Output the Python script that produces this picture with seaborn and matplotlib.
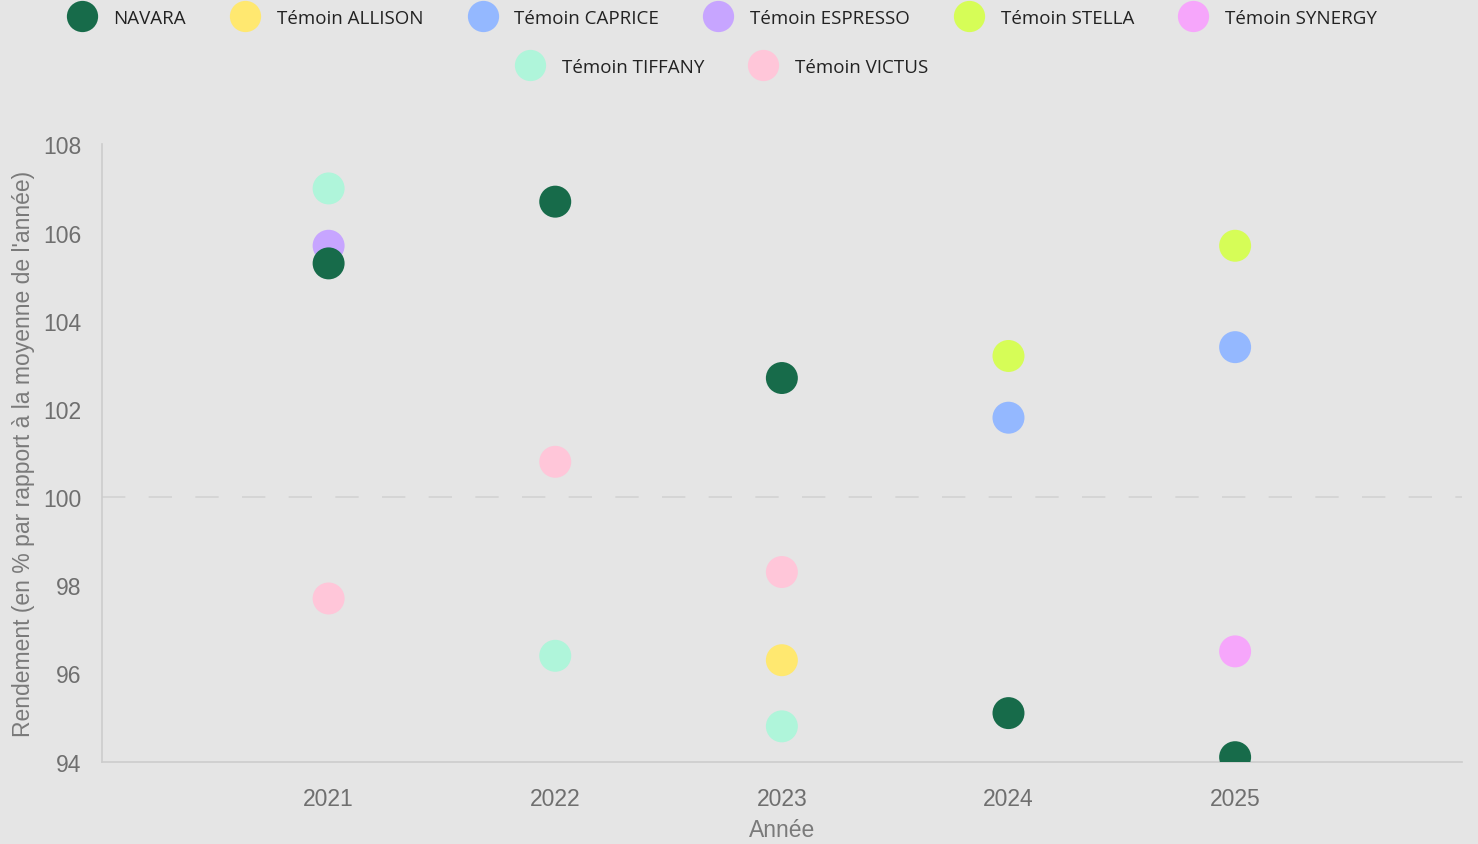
import numpy as np
import pandas as pd
import matplotlib.pyplot as plt
from matplotlib.lines import Line2D
import seaborn as sns

# yield in % of the yearly mean, one list per variety (nan = not tested that year)
years = [2021, 2022, 2023, 2024, 2025]
navara = [105.3, 106.7, 102.7, 95.1, 94.1]
allison = [np.nan, np.nan, 96.3, np.nan, np.nan]
caprice = [np.nan, np.nan, np.nan, 101.8, 103.4]
espresso = [105.7, np.nan, np.nan, np.nan, np.nan]
stella = [np.nan, np.nan, np.nan, 103.2, 105.7]
synergy = [np.nan, np.nan, np.nan, np.nan, 96.5]
tiffany = [107.0, 96.4, 94.8, np.nan, np.nan]
victus = [97.7, 100.8, 98.3, np.nan, np.nan]

names = ['NAVARA', 'Témoin ALLISON', 'Témoin CAPRICE', 'Témoin ESPRESSO',
         'Témoin STELLA', 'Témoin SYNERGY', 'Témoin TIFFANY', 'Témoin VICTUS']
series = [navara, allison, caprice, espresso, stella, synergy, tiffany, victus]
colors = ['#176b4a', '#ffe870', '#94b8ff', '#c7a5ff',
          '#d6fd57', '#f6a6fb', '#aff5da', '#ffc6d9']
palette = dict(zip(names, colors))

rows = []
for name, vals in zip(names, series):
    for yr, v in zip(years, vals):
        if not np.isnan(v):
            rows.append({'Année': yr, 'Rendement': v, 'Variété': name})
df = pd.DataFrame(rows)
# NAVARA drawn last so it sits on top
df['ordre'] = (df['Variété'] == 'NAVARA').astype(int)
df = df.sort_values('ordre', kind='stable')

bg = '#e5e5e5'
sns.set_style('white')
plt.rcParams['font.family'] = ['Liberation Sans', 'DejaVu Sans']

fig = plt.figure(figsize=(14.78, 8.45), dpi=100, facecolor=bg)
ax = fig.add_axes([0.069, 0.0975, 0.92, 0.7305])
ax.set_facecolor(bg)

ax.axhline(100, color='#d2d2d2', lw=1.2, ls=(0, (14, 14)), zorder=1)
sns.scatterplot(data=df, x='Année', y='Rendement', hue='Variété', palette=palette,
                s=530, linewidth=0, legend=False, ax=ax, zorder=3)

ax.set_xlim(2020, 2026)
ax.set_ylim(94, 108)
ax.set_xticks(years)
ax.set_yticks([94, 96, 98, 100, 102, 104, 106, 108])
ax.tick_params(axis='both', length=0, labelsize=16.5, labelcolor='#6f6f6f')
ax.tick_params(axis='x', pad=18)
ax.tick_params(axis='y', pad=15)
for side in ['top', 'right']:
    ax.spines[side].set_visible(False)
for side in ['left', 'bottom']:
    ax.spines[side].set_color('#cccccc')
    ax.spines[side].set_linewidth(1.2)
ax.set_xlabel('Année', fontsize=16.5, color='#7a7a7a', labelpad=6)
ax.set_ylabel("Rendement (en % par rapport à la moyenne de l'année)",
              fontsize=16.5, color='#7a7a7a', labelpad=6)

def handles(sub):
    return [Line2D([], [], marker='o', ls='', markersize=22.5, markerfacecolor=palette[n],
                   markeredgewidth=0, label=n) for n in sub]

leg_kw = dict(frameon=False, handlelength=1.4, handletextpad=1.0, columnspacing=2.45,
              prop={'family': 'Open Sans', 'size': 13.5})
leg1 = fig.legend(handles=handles(names[:6]), ncol=6, loc='center',
                  bbox_to_anchor=(0.489, 1 - 19 / 845), **leg_kw)
leg2 = fig.legend(handles=handles(names[6:]), ncol=2, loc='center',
                  bbox_to_anchor=(0.489, 1 - 68 / 845), **leg_kw)
for leg in (leg1, leg2):
    for t in leg.get_texts():
        t.set_color('#222222')

fig.savefig('out.png', dpi=100, facecolor=bg)
